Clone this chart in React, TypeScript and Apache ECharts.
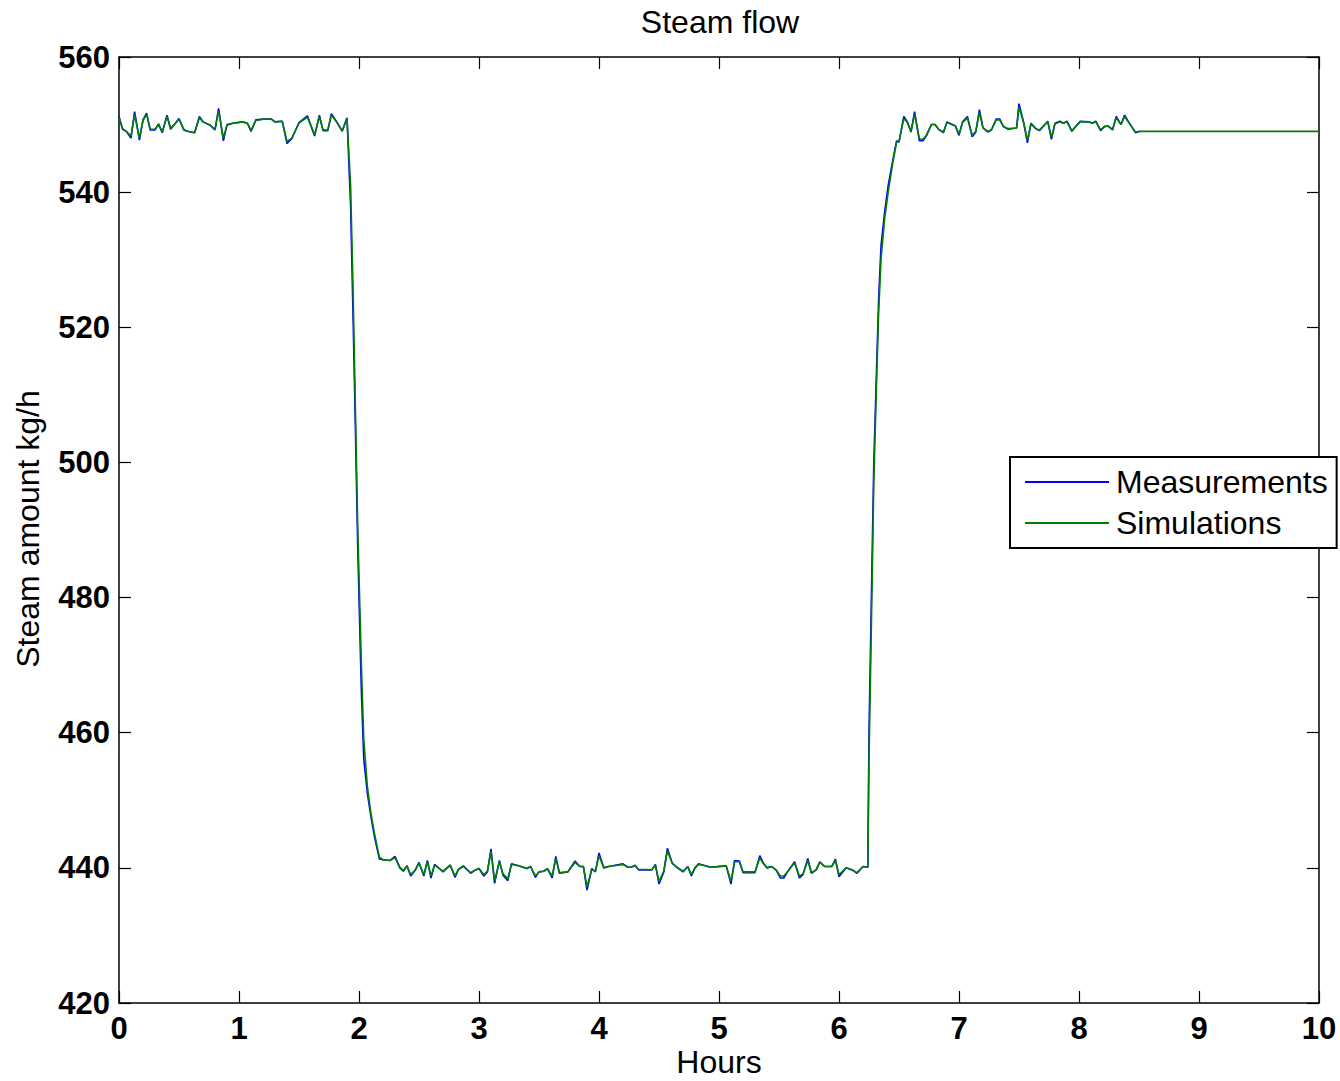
import React, { useEffect, useRef } from "react";
import * as echarts from "echarts";

const FONT = "'Liberation Sans', Arial, Helvetica, sans-serif";

const xTicks = [0, 1, 2, 3, 4, 5, 6, 7, 8, 9, 10];
const yTicks = [420, 440, 460, 480, 500, 520, 540, 560];

const hours = [
  0.00, 0.03, 0.06, 0.10, 0.13, 0.17, 0.20, 0.23, 0.26, 0.30,
  0.33, 0.36, 0.40, 0.43, 0.47, 0.50, 0.54, 0.57, 0.63, 0.67,
  0.70, 0.76, 0.80, 0.83, 0.87, 0.90, 0.95, 1.03, 1.07, 1.10,
  1.14, 1.20, 1.27, 1.30, 1.36, 1.40, 1.44, 1.50, 1.57, 1.63,
  1.67, 1.70, 1.74, 1.77, 1.81, 1.86, 1.90,
  1.93, 1.95, 1.97, 1.99, 2.02, 2.04, 2.07, 2.10, 2.13, 2.17,
  2.20, 2.26, 2.30, 2.34, 2.37, 2.40, 2.43, 2.47, 2.50, 2.54,
  2.57, 2.60, 2.63, 2.67, 2.70, 2.76, 2.80, 2.83, 2.87, 2.93,
  2.97, 3.00, 3.04, 3.07, 3.10, 3.13, 3.17, 3.20, 3.24, 3.27,
  3.33, 3.40, 3.43, 3.47, 3.50, 3.54, 3.57, 3.61, 3.64, 3.67,
  3.74, 3.80, 3.84, 3.87, 3.90, 3.94, 3.97, 4.00, 4.04, 4.08,
  4.20, 4.24, 4.27, 4.30, 4.33, 4.44, 4.47, 4.50, 4.54, 4.57,
  4.61, 4.64, 4.70, 4.74, 4.77, 4.80, 4.83, 4.87, 4.93, 5.06,
  5.10, 5.13, 5.17, 5.20, 5.30, 5.34, 5.37, 5.40, 5.44, 5.48,
  5.51, 5.54, 5.57, 5.61, 5.63, 5.67, 5.70, 5.74, 5.77, 5.81,
  5.84, 5.88, 5.94, 5.97, 6.00, 6.06, 6.11, 6.15, 6.20, 6.24,
  6.25, 6.27, 6.29, 6.31, 6.33, 6.35, 6.38, 6.41, 6.45,
  6.48, 6.50, 6.54, 6.57, 6.60, 6.63, 6.67, 6.70, 6.73, 6.77,
  6.80, 6.83, 6.87, 6.90, 6.97, 7.00, 7.03, 7.07, 7.11, 7.14,
  7.17, 7.20, 7.24, 7.27, 7.31, 7.34, 7.37, 7.41, 7.48, 7.50,
  7.54, 7.57, 7.60, 7.64, 7.67, 7.74, 7.77, 7.80, 7.84, 7.87,
  7.90, 7.94, 8.01, 8.08, 8.11, 8.14, 8.18, 8.21, 8.24, 8.28,
  8.31, 8.35, 8.38, 8.41, 8.47, 8.51,
];

const measured = [
  551.2, 549.3, 549.0, 548.0, 551.9, 547.7, 550.7, 551.7, 549.2, 549.2,
  550.1, 548.8, 551.4, 549.3, 550.2, 550.9, 549.2, 549.0, 548.8, 551.2,
  550.4, 549.9, 549.2, 552.4, 547.6, 550.0, 550.2, 550.4, 550.2, 549.0,
  550.7, 550.8, 550.8, 550.4, 550.5, 547.2, 547.9, 550.3, 551.3, 548.3,
  551.4, 549.1, 549.1, 551.6, 550.5, 549.0, 551.0,
  538.0, 522.0, 505.0, 487.0, 466.0, 456.0, 451.0, 447.5, 444.5, 441.3,
  441.2, 441.1, 441.7, 440.0, 439.5, 440.3, 438.8, 439.7, 440.8, 438.8,
  441.1, 438.5, 440.5, 439.9, 439.4, 440.4, 438.6, 439.8, 440.3, 439.2,
  439.7, 439.9, 438.8, 439.4, 442.8, 437.7, 441.1, 438.9, 438.1, 440.6,
  440.3, 439.9, 440.2, 438.6, 439.4, 439.5, 439.9, 438.5, 441.7, 439.2,
  439.4, 441.0, 440.2, 440.2, 436.7, 439.9, 439.4, 442.2, 440.0, 440.2,
  440.6, 440.1, 440.1, 440.4, 439.7, 439.7, 440.5, 437.6, 439.4, 442.9,
  440.7, 440.2, 439.4, 440.2, 438.8, 440.0, 440.6, 440.4, 440.1, 440.3,
  437.6, 441.1, 441.0, 439.3, 439.3, 441.8, 440.7, 440.0, 440.2, 439.6,
  438.5, 438.5, 439.4, 440.4, 440.9, 438.5, 439.0, 441.4, 439.2, 439.7,
  440.9, 440.2, 440.2, 441.3, 438.7, 440.0, 439.7, 439.2, 440.2, 440.1,
  460.0, 480.0, 500.0, 512.0, 524.0, 532.0, 537.0, 541.0, 544.9,
  547.6, 547.4, 551.2, 550.4, 548.9, 551.9, 547.6, 547.6, 548.4, 550.0,
  550.0, 549.3, 548.8, 550.4, 549.8, 548.4, 550.4, 551.2, 548.2, 548.9,
  552.2, 549.5, 548.9, 549.2, 550.8, 550.8, 549.7, 549.3, 549.5, 553.1,
  550.2, 547.3, 550.2, 549.4, 549.1, 550.5, 547.8, 550.2, 550.5, 550.2,
  550.5, 549.0, 550.5, 550.4, 550.2, 550.5, 549.1, 549.7, 549.8, 549.2,
  551.2, 550.0, 551.4, 550.5, 548.8, 549.0,
];

const simulated = [
  551.0, 549.4, 549.0, 548.3, 551.5, 548.0, 550.6, 551.5, 549.3, 549.3,
  550.0, 548.9, 551.2, 549.4, 550.2, 550.8, 549.3, 549.0, 548.8, 551.0,
  550.4, 549.9, 549.3, 552.0, 548.0, 549.9, 550.2, 550.4, 550.2, 549.1,
  550.6, 550.8, 550.8, 550.4, 550.5, 547.5, 548.0, 550.2, 551.1, 548.5,
  551.2, 549.2, 549.2, 551.4, 550.5, 549.1, 550.9,
  541.0, 526.0, 508.0, 490.0, 470.0, 459.0, 452.0, 448.0, 445.0, 441.6,
  441.2, 441.1, 441.5, 440.1, 439.6, 440.3, 439.0, 439.7, 440.7, 439.0,
  440.9, 438.8, 440.4, 439.9, 439.5, 440.4, 438.8, 439.8, 440.2, 439.3,
  439.7, 439.9, 439.0, 439.5, 442.4, 438.1, 440.9, 439.1, 438.4, 440.5,
  440.3, 439.9, 440.2, 438.8, 439.4, 439.5, 439.9, 438.8, 441.4, 439.3,
  439.4, 440.8, 440.2, 440.2, 437.2, 439.8, 439.5, 441.8, 440.0, 440.2,
  440.5, 440.1, 440.1, 440.3, 439.8, 439.7, 440.4, 438.0, 439.5, 442.5,
  440.7, 440.2, 439.5, 440.2, 439.0, 440.0, 440.5, 440.4, 440.1, 440.3,
  438.0, 440.9, 440.9, 439.4, 439.4, 441.5, 440.6, 440.0, 440.2, 439.6,
  438.8, 438.8, 439.4, 440.3, 440.7, 438.8, 439.1, 441.1, 439.3, 439.7,
  440.8, 440.2, 440.2, 441.1, 439.0, 440.0, 439.7, 439.3, 440.2, 440.1,
  456.0, 476.0, 497.0, 510.0, 522.0, 530.0, 536.0, 540.0, 544.5,
  547.4, 547.5, 550.9, 550.3, 549.0, 551.5, 547.9, 547.8, 548.5, 550.0,
  550.0, 549.3, 548.9, 550.3, 549.8, 548.6, 550.3, 551.0, 548.4, 549.0,
  551.8, 549.5, 549.0, 549.2, 550.7, 550.7, 549.7, 549.4, 549.5, 552.6,
  550.2, 547.7, 550.1, 549.4, 549.2, 550.4, 548.1, 550.1, 550.4, 550.2,
  550.4, 549.1, 550.4, 550.4, 550.2, 550.4, 549.2, 549.7, 549.8, 549.3,
  551.0, 550.0, 551.2, 550.4, 548.9, 549.0,
];

const simTailHours = [10.0];
const simTailValues = [549.0];

const seriesNames = ["Measurements", "Simulations"];
const seriesColors = ["#0000ff", "#008000"];

export default function App() {
  const ref = useRef<HTMLDivElement>(null);

  useEffect(() => {
    if (!ref.current) return;
    const chart = echarts.init(ref.current, null, { renderer: "svg" });

    const measData = hours.map((h, i) => [h, measured[i]]);
    const simData = hours
      .map((h, i) => [h, simulated[i]])
      .concat(simTailHours.map((h, i) => [h, simTailValues[i]]));

    const axisLineStyle = { color: "#000", width: 1.5 };
    const tickStyle = { color: "#000", width: 1.2 };

    const xBase = {
      type: "value" as const,
      min: xTicks[0],
      max: xTicks[xTicks.length - 1],
      interval: 1,
      splitLine: { show: false },
      axisLine: { show: true, onZero: false, lineStyle: axisLineStyle },
      axisTick: { show: true, inside: true, length: 12, lineStyle: tickStyle },
    };
    const yBase = {
      type: "value" as const,
      min: yTicks[0],
      max: yTicks[yTicks.length - 1],
      interval: 20,
      splitLine: { show: false },
      axisLine: { show: true, onZero: false, lineStyle: axisLineStyle },
      axisTick: { show: true, inside: true, length: 12, lineStyle: tickStyle },
    };

    chart.setOption({
      animation: false,
      backgroundColor: "#ffffff",
      grid: { left: 119, right: 21, top: 57, bottom: 78, containLabel: false },
      xAxis: [
        {
          ...xBase,
          position: "bottom",
          axisLabel: {
            show: true,
            margin: 10,
            color: "#000",
            fontFamily: FONT,
            fontSize: 31,
            fontWeight: "bold",
          },
        },
        { ...xBase, position: "top", axisLabel: { show: false } },
      ],
      yAxis: [
        {
          ...yBase,
          position: "left",
          axisLabel: {
            show: true,
            margin: 9,
            color: "#000",
            fontFamily: FONT,
            fontSize: 31,
            fontWeight: "bold",
          },
        },
        { ...yBase, position: "right", axisLabel: { show: false } },
      ],
      legend: {
        orient: "vertical",
        left: 1010,
        top: 457,
        padding: [9, 9, 9, 15],
        itemGap: 9,
        itemWidth: 84,
        itemHeight: 2,
        icon: "rect",
        backgroundColor: "#fff",
        borderColor: "#000",
        borderWidth: 2,
        borderRadius: 0,
        textStyle: { color: "#000", fontFamily: FONT, fontSize: 32, padding: [0, 0, 0, 2] },
        data: seriesNames,
      },
      graphic: [
        {
          type: "text",
          x: 720,
          y: 22,
          style: {
            text: "Steam flow",
            textAlign: "center",
            textVerticalAlign: "middle",
            fill: "#000",
            font: `32px ${FONT}`,
          },
        },
        {
          type: "text",
          x: 719,
          y: 1062,
          style: {
            text: "Hours",
            textAlign: "center",
            textVerticalAlign: "middle",
            fill: "#000",
            font: `32px ${FONT}`,
          },
        },
        {
          type: "text",
          x: 28,
          y: 529,
          rotation: Math.PI / 2,
          style: {
            text: "Steam amount kg/h",
            textAlign: "center",
            textVerticalAlign: "middle",
            fill: "#000",
            font: `32px ${FONT}`,
          },
        },
      ],
      series: [
        {
          name: seriesNames[0],
          type: "line",
          xAxisIndex: 0,
          yAxisIndex: 0,
          data: measData,
          showSymbol: false,
          symbol: "none",
          lineStyle: { color: seriesColors[0], width: 1.6 },
          itemStyle: { color: seriesColors[0] },
          z: 2,
        },
        {
          name: seriesNames[1],
          type: "line",
          xAxisIndex: 0,
          yAxisIndex: 0,
          data: simData,
          showSymbol: false,
          symbol: "none",
          lineStyle: { color: seriesColors[1], width: 1.6 },
          itemStyle: { color: seriesColors[1] },
          z: 3,
        },
      ],
    });

    return () => chart.dispose();
  }, []);

  return (
    <div
      ref={ref}
      style={{ position: "absolute", left: 0, top: 0, width: 1340, height: 1081, background: "#fff" }}
    />
  );
}
